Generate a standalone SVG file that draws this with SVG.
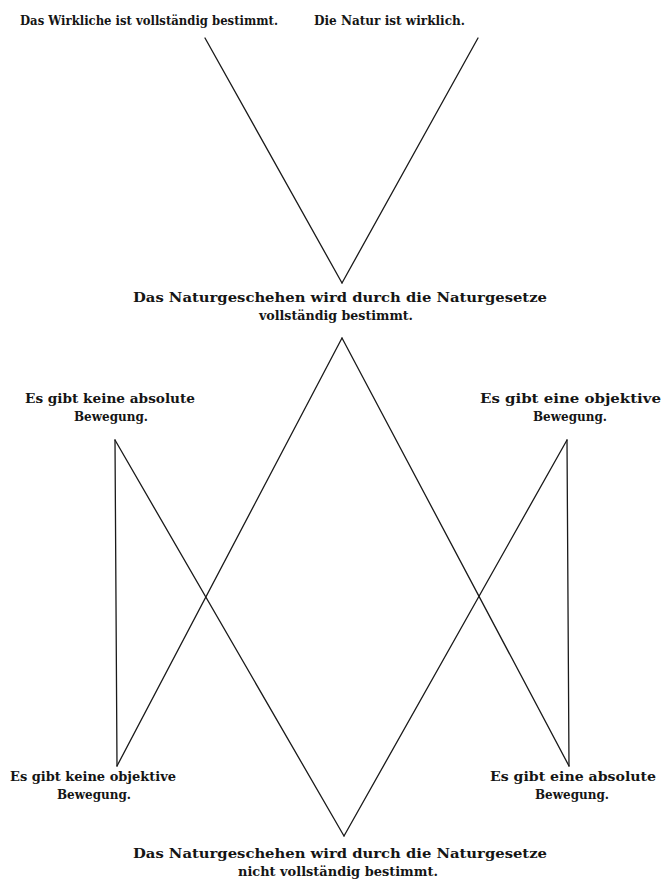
<svg xmlns="http://www.w3.org/2000/svg" width="666" height="889" viewBox="0 0 666 889">
<style>
text{font-family:"DejaVu Serif","Liberation Serif",serif;font-size:12px;font-weight:bold;fill:#151515;}
.c{text-anchor:middle;}
.ln{stroke:#1a1a1a;stroke-width:1.3;fill:none;stroke-linecap:round;}
</style>
<rect width="666" height="889" fill="#ffffff"/>
<g id="n-wirkliche">
<text x="20" y="25" textLength="258" lengthAdjust="spacingAndGlyphs">Das Wirkliche ist vollständig bestimmt.</text>
</g>
<g id="n-natur">
<text x="314" y="25" textLength="151" lengthAdjust="spacingAndGlyphs">Die Natur ist wirklich.</text>
</g>
<g id="n-bestimmt">
<text class="c" x="340" y="302" textLength="414" lengthAdjust="spacingAndGlyphs">Das Naturgeschehen wird durch die Naturgesetze</text>
<text class="c" x="336" y="320" textLength="154" lengthAdjust="spacingAndGlyphs">vollständig bestimmt.</text>
</g>
<g id="n-keine-absolute">
<text x="25" y="403" textLength="170" lengthAdjust="spacingAndGlyphs">Es gibt keine absolute</text>
<text class="c" x="111" y="421" textLength="74" lengthAdjust="spacingAndGlyphs">Bewegung.</text>
</g>
<g id="n-objektive">
<text x="480" y="403" textLength="181" lengthAdjust="spacingAndGlyphs">Es gibt eine objektive</text>
<text class="c" x="570" y="421" textLength="74" lengthAdjust="spacingAndGlyphs">Bewegung.</text>
</g>
<g id="n-keine-objektive">
<text x="10" y="781" textLength="166" lengthAdjust="spacingAndGlyphs">Es gibt keine objektive</text>
<text class="c" x="94" y="799" textLength="74" lengthAdjust="spacingAndGlyphs">Bewegung.</text>
</g>
<g id="n-absolute">
<text x="490" y="781" textLength="166" lengthAdjust="spacingAndGlyphs">Es gibt eine absolute</text>
<text class="c" x="572" y="799" textLength="74" lengthAdjust="spacingAndGlyphs">Bewegung.</text>
</g>
<g id="n-nicht-bestimmt">
<text class="c" x="340" y="858" textLength="414" lengthAdjust="spacingAndGlyphs">Das Naturgeschehen wird durch die Naturgesetze</text>
<text class="c" x="338" y="876" textLength="200" lengthAdjust="spacingAndGlyphs">nicht vollständig bestimmt.</text>
</g>
<g id="connectors">
<line class="ln" x1="205" y1="38" x2="342" y2="283"/>
<line class="ln" x1="478" y1="38" x2="342" y2="283"/>
<line class="ln" x1="342" y1="338" x2="117" y2="766"/>
<line class="ln" x1="342" y1="338" x2="569" y2="766"/>
<line class="ln" x1="115" y1="440" x2="344" y2="836"/>
<line class="ln" x1="567" y1="440" x2="344" y2="836"/>
<line class="ln" x1="115" y1="440" x2="117" y2="766"/>
<line class="ln" x1="567" y1="440" x2="569" y2="766"/>
</g>
</svg>
